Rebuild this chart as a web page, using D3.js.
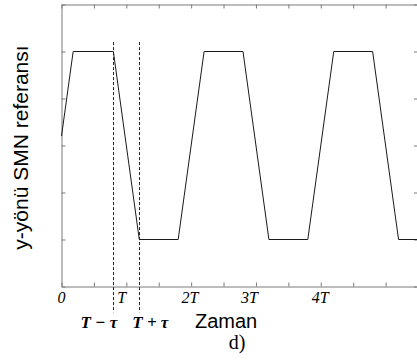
<!DOCTYPE html>
<html lang="tr">
<head>
<meta charset="UTF-8">
<title>y-yönü SMN referansı</title>
<script src="https://d3js.org/d3.v7.min.js"></script>
<style>
  body { margin: 0; background: #fff; }
  svg { display: block; }
</style>
</head>
<body>
<div id="chart"></div>
<script>
// waveform corner points (time in units of T, value in tick units)
const times  = [0, 0.18, 0.8, 1.2, 1.8, 2.2, 2.8, 3.2, 3.8, 4.2, 4.8, 5.2, 5.5];
const values = [0.2, 2, 2, -2, -2, 2, 2, -2, -2, 2, 2, -2, -2];

// tick label text and where it sits (in T units)
const tickLabels   = ["0", "T", "2T", "3T", "4T"];
const tickLabelPos = [0, 0.93, 1.98, 2.9, 3.99];

// dashed markers at T - tau and T + tau
const tau = 0.2;
const markTimes  = [1 - tau, 1 + tau];
const markLabels = ["T − τ", "T + τ"];
const markSpan   = [2.2, -3.55];

const width = 417, height = 360;
const margin = {top: 4, right: -1, bottom: 74, left: 61.5};

const svg = d3.select("#chart").append("svg")
    .attr("width", width)
    .attr("height", height);

const x = d3.scaleLinear()
    .domain([0, 5.5])
    .range([margin.left, width - margin.right]);

const y = d3.scaleLinear()
    .domain([-3, 3])
    .range([height - margin.bottom + 0.5, margin.top + 0.5]);

const xTicks = d3.range(0, 5.51, 0.5);
const yTicks = d3.range(-3, 3.01, 1);
const frameColor = "#7a7a7a";

// frame with inward ticks (matlab style)
function styleAxis(g) {
  g.selectAll("path, line").attr("stroke", frameColor);
  g.selectAll("text").remove();
}
svg.append("g")
    .attr("transform", `translate(0,${y(-3)})`)
    .call(d3.axisBottom(x).tickValues(xTicks).tickSizeInner(-4).tickSizeOuter(0))
    .call(styleAxis);
svg.append("g")
    .attr("transform", `translate(0,${y(3)})`)
    .call(d3.axisTop(x).tickValues(xTicks).tickSizeInner(-4).tickSizeOuter(0))
    .call(styleAxis);
svg.append("g")
    .attr("transform", `translate(${x(0)},0)`)
    .call(d3.axisLeft(y).tickValues(yTicks).tickSizeInner(-4).tickSizeOuter(0))
    .call(styleAxis);
svg.append("g")
    .attr("transform", `translate(${x(5.5)},0)`)
    .call(d3.axisRight(y).tickValues(yTicks).tickSizeInner(-4).tickSizeOuter(0))
    .call(styleAxis);

// dashed lines
svg.selectAll(".mark")
  .data(markTimes)
  .join("line")
    .attr("class", "mark")
    .attr("x1", d => Math.round(x(d)) + 0.5)
    .attr("x2", d => Math.round(x(d)) + 0.5)
    .attr("y1", y(markSpan[0]))
    .attr("y2", y(markSpan[1]))
    .attr("stroke", "#222")
    .attr("stroke-width", 1)
    .attr("stroke-dasharray", "3,2");

// the reference signal
const pts = times.map((t, i) => [t, values[i]]);
svg.append("path")
    .datum(pts)
    .attr("fill", "none")
    .attr("stroke", "#1a1a1a")
    .attr("stroke-width", 1)
    .attr("d", d3.line().x(d => x(d[0])).y(d => y(d[1])));

// tick labels
svg.selectAll(".tl")
  .data(tickLabels)
  .join("text")
    .attr("class", "tl")
    .attr("x", (d, i) => x(tickLabelPos[i]))
    .attr("y", y(-3) + 16)
    .attr("text-anchor", "middle")
    .attr("font-family", "Liberation Serif, Times New Roman, serif")
    .attr("font-style", "italic")
    .attr("font-size", 16)
    .text(d => d);

// T - tau / T + tau labels
svg.selectAll(".ml")
  .data(markLabels)
  .join("text")
    .attr("class", "ml")
    .attr("x", (d, i) => i === 0 ? x(markTimes[i]) + 4 : x(markTimes[i]) - 7)
    .attr("y", y(-3) + 41)
    .attr("text-anchor", (d, i) => i === 0 ? "end" : "start")
    .attr("font-family", "Liberation Serif, Times New Roman, serif")
    .attr("font-style", "italic")
    .attr("font-weight", "bold")
    .attr("font-size", 17)
    .text(d => d);

// axis titles
svg.append("text")
    .attr("x", 195)
    .attr("y", y(-3) + 41)
    .attr("font-family", "Liberation Sans, Arial, sans-serif")
    .attr("font-size", 20)
    .text("Zaman");

svg.append("text")
    .attr("x", 237)
    .attr("y", 349)
    .attr("text-anchor", "middle")
    .attr("font-family", "Liberation Serif, Times New Roman, serif")
    .attr("font-size", 20)
    .text("d)");

svg.append("text")
    .attr("transform", `translate(28,${y(0) + 2}) rotate(-90)`)
    .attr("text-anchor", "middle")
    .attr("font-family", "Liberation Sans, Arial, sans-serif")
    .attr("font-size", 21)
    .text("y-yönü SMN referansı");
</script>
</body>
</html>
